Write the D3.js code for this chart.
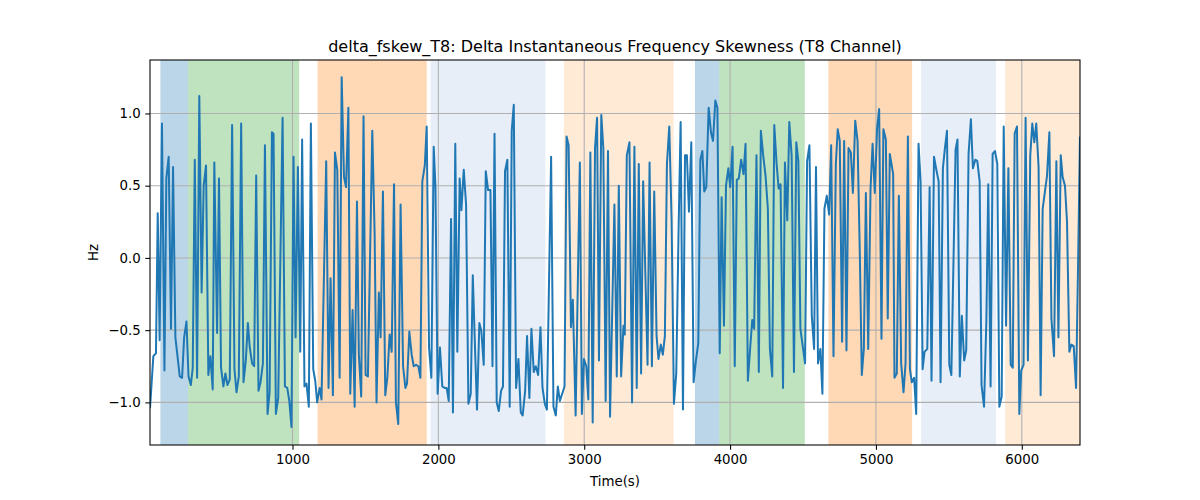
<!DOCTYPE html>
<html>
<head>
<meta charset="utf-8">
<script src="https://cdn.jsdelivr.net/npm/d3@7"></script>
<style>
body { margin: 0; background: #fff; }
svg { display: block; font-family: "DejaVu Sans", sans-serif; }
</style>
</head>
<body>
<svg id="chart" width="1200" height="500"></svg>
<script>
const title = "delta_fskew_T8: Delta Instantaneous Frequency Skewness (T8 Channel)";
const xLabel = "Time(s)";
const yLabel = "Hz";
const xTicks = [1000, 2000, 3000, 4000, 5000, 6000];
const yTicks = [-1.0, -0.5, 0.0, 0.5, 1.0];
const yDomain = [-1.295, 1.37];

const times = [
23,46,64,76,89,105,122,135,151,167,181,197,227,243,257,273,287,303,316,330,346,361,377,391,407,423,437,453,464,483,496,510,526,540,554,570,586,602,616,632,648,664,680,694,707,723,737,751,767,781,797,
811,829,843,859,870,886,902,932,948,964,978,993,1007,1021,1037,1053,1066,1082,1096,1112,1126,1142,1156,1169,1186,1199,1231,1247,1261,1277,1291,1307,1323,1337,1353,1367,1383,1396,1412,1426,1442,1455,1471,1487,1501,1517,1547,1563,1576,1592,
1604,1620,1636,1650,1666,1680,1696,1709,1725,1741,1758,1774,1785,1801,1817,1831,1847,1863,1877,1890,1907,1920,1936,1952,1968,1980,1995,2011,2027,2043,2057,2071,2087,2100,2116,2130,2146,2158,2174,2190,2206,2222,2236,2249,2265,2281,2295,2311,2325,2341,2357,2371,2385,
2400,2414,2430,2443,2457,2473,2489,2503,2517,2533,2549,2565,2578,2595,2608,2624,2638,2654,2668,2684,2700,2714,2730,2744,2773,2789,2805,2819,2833,2849,2865,2879,2893,2909,2922,2941,2970,2984,2998,3014,3028,3042,3058,3074,3088,3101,3117,3131,3147,3163,
3177,3207,3223,3237,3253,3269,3278,3292,3310,3328,3344,3360,3374,3390,3404,3434,3448,3464,3480,3496,3509,3525,3539,3553,3567,3583,3599,3615,3631,3647,3661,3677,3691,3704,3718,3734,3750,3766,3782,3796,3810,3823,3837,3853,3869,3883,3899,3913,3929,
3942,3958,3972,3988,4001,4017,4032,4046,4060,4076,4092,4106,4122,4138,4152,4165,4181,4197,4211,4227,4243,4259,4273,4289,4303,4319,4333,4346,4363,4376,4392,4406,4422,4438,4454,4468,4482,4514,4528,4544,4560,4576,4589,4603,4619,4633,4647,4663,4679,4693,4709,4725,4738,4752,
4768,4782,4798,4812,4828,4842,4858,4874,4890,4903,4917,4931,4947,4963,4977,4992,5008,5022,5038,5051,5068,5081,5095,5118,5127,5143,5157,5173,5189,5203,5219,5233,5246,5262,5276,5292,5306,5320,5333,5352,5368,5381,5398,5414,5430,5443,5459,5473,5487,5503,5517,
5546,5559,5575,5589,5605,5619,5635,5651,5665,5681,5695,5711,5724,5741,5757,5770,5786,5800,5816,5832,5846,5862,5876,5892,5908,5924,5938,5951,5967,5983,5996,6012,6026,6042,6058,6072,6086,6099,6115,6129,6143,6173,6189,6203,6221,6237,6251,6267,6280,6296,6310,6326,6340,6356,6372,6386,6399
];

const values = [
-1.04,-0.68,-0.66,0.31,-0.57,0.93,-0.78,0.55,0.70,-0.49,0.63,-0.55,-0.82,-0.83,-0.55,-0.44,-0.82,-0.88,-0.76,0.68,-0.83,1.12,-0.24,0.50,0.64,-0.81,-0.68,-0.91,0.66,-0.52,0.55,-0.76,-0.89,-0.80,-0.88,-0.84,0.92,-0.77,-0.93,-0.82,0.93,-0.86,-0.71,-0.45,-0.62,-0.73,-0.75,0.57,-0.92,-0.86,-0.73,
0.78,-1.08,-0.93,0.87,0.86,-1.08,-0.97,0.97,-0.89,-0.90,-0.99,-1.17,0.70,-0.55,0.63,-0.65,0.82,-0.89,-0.87,-1.03,0.93,-0.77,-0.85,-1.00,-0.90,-0.98,0.67,-0.90,-0.14,-0.95,0.73,0.61,-0.83,1.25,0.56,0.49,1.04,-0.94,-0.36,-1.03,0.39,-0.67,-0.96,0.98,-0.81,-0.82,0.88,0.17,-1.00,-0.24,
-0.55,0.46,-0.95,-0.83,-0.53,-0.65,0.51,-1.00,-1.15,0.37,-0.75,-0.90,-0.87,-0.51,-0.67,-0.75,-0.74,-0.75,-0.83,0.53,0.64,0.91,-0.62,-0.83,0.77,0.49,-0.94,-0.62,-0.89,-0.90,-0.90,-0.99,0.27,-1.07,0.79,-0.65,0.55,0.33,0.61,0.37,-1.01,-0.94,-0.12,-0.55,-1.05,-0.45,-0.51,-0.74,0.60,0.47,0.47,-0.75,0.86,
-1.00,-1.06,-0.92,-0.89,0.60,0.68,-1.03,0.88,1.06,-0.90,-0.70,-1.07,-1.09,-0.92,-0.54,-0.97,-0.49,-0.79,-0.75,-0.81,-0.48,-0.90,-1.01,-1.05,0.70,-1.03,-1.09,-0.89,-0.99,-0.94,-0.89,0.84,0.78,-0.48,-0.29,-1.09,0.66,-1.08,-0.70,-0.75,-0.98,0.73,-1.14,0.76,0.97,-0.71,0.99,0.76,-0.99,0.74,
-1.10,0.37,-0.82,0.50,-0.82,-0.47,-0.53,0.71,0.80,-1.00,0.77,-0.90,0.65,-0.80,0.53,-0.74,0.66,-0.75,0.46,-0.54,-0.70,-0.60,-0.67,-0.54,0.65,0.91,0.27,-1.01,-0.80,0.20,0.94,-1.05,0.71,0.71,0.32,0.80,-0.86,-0.71,-0.59,0.68,0.74,0.46,0.49,1.04,0.87,0.81,1.09,1.04,-0.66,
0.42,-0.47,0.50,0.62,0.49,0.77,-0.75,0.54,0.55,0.68,0.58,0.79,-0.85,-0.62,-0.43,-0.49,0.71,-0.79,0.88,0.71,0.57,0.34,-0.63,-0.82,0.92,0.65,0.48,0.51,-0.90,0.66,0.26,0.94,0.71,-0.79,0.80,0.67,-0.49,-0.73,0.67,0.78,-0.40,-0.63,0.63,-0.73,-0.63,-0.94,0.34,0.43,0.30,0.78,-0.68,0.65,0.89,0.81,
-0.58,0.81,-0.64,0.76,0.73,0.45,0.95,0.81,0.00,-0.81,-0.63,0.45,-0.63,0.48,0.79,0.45,0.90,1.03,-0.56,0.89,0.82,-0.42,0.72,0.58,-0.83,-0.80,0.43,-0.73,-0.93,-0.73,0.84,-0.77,-0.86,-0.83,-1.08,0.79,0.53,-0.77,-0.65,-0.63,0.49,-0.85,0.70,0.61,0.53,-0.86,0.62,0.76,0.88,-0.74,-0.81,
0.75,0.82,-0.82,-0.40,-0.71,-0.64,0.72,0.96,0.62,0.68,0.67,0.53,-0.88,-1.03,-0.44,0.51,-0.89,0.72,0.74,0.65,-1.03,-0.96,0.91,-0.47,0.62,-0.74,-0.76,0.86,0.91,-1.08,-0.78,-0.74,0.97,-0.71,0.71,0.93,0.80,0.93,0.63,-0.95,0.34,0.57,0.87,-0.42,-0.68,0.67,-0.55,0.71,0.56,0.50,0.25,-0.65,-0.60,-0.61,-0.90,-0.03,0.84
];

const spanStarts = [94, 284, 1172, 1947, 2860, 3759, 3926, 4674, 5310, 5886];
const spanEnds   = [284, 1046, 1920, 2734, 3613, 3926, 4512, 5248, 5823, 6399];
const spanColors = ["#1f77b4", "#2ca02c", "#ff7f0e", "#aec7e8", "#ffbb78", "#1f77b4", "#2ca02c", "#ff7f0e", "#aec7e8", "#ffbb78"];

const margin = {left: 150, right: 120, top: 60, bottom: 55};
const W = 1200, H = 500;
const iw = W - margin.left - margin.right;
const ih = H - margin.top - margin.bottom;

const svg = d3.select("#chart");
const g = svg.append("g").attr("transform", `translate(${margin.left},${margin.top})`);

const x = d3.scaleLinear().domain(d3.extent(times)).range([0, iw]);
const y = d3.scaleLinear().domain(yDomain).range([ih, 0]);

svg.append("defs").append("clipPath").attr("id", "clip")
  .append("rect").attr("width", iw).attr("height", ih);

const plot = g.append("g").attr("clip-path", "url(#clip)");

// spans
plot.selectAll("rect.span").data(spanStarts).join("rect")
  .attr("class", "span")
  .attr("x", (d) => x(d))
  .attr("width", (d, i) => x(spanEnds[i]) - x(d))
  .attr("y", 0).attr("height", ih)
  .attr("fill", (d, i) => spanColors[i])
  .attr("fill-opacity", 0.3);

// grid
plot.selectAll("line.gx").data(xTicks).join("line")
  .attr("x1", d => x(d)).attr("x2", d => x(d))
  .attr("y1", 0).attr("y2", ih)
  .attr("stroke", "#b0b0b0").attr("stroke-width", 1.07);
plot.selectAll("line.gy").data(yTicks).join("line")
  .attr("y1", d => y(d)).attr("y2", d => y(d))
  .attr("x1", 0).attr("x2", iw)
  .attr("stroke", "#b0b0b0").attr("stroke-width", 1.07);

// line
const pts = times.map((t, i) => [t, values[i]]);
plot.append("path").datum(pts)
  .attr("fill", "none")
  .attr("stroke", "#1f77b4")
  .attr("stroke-width", 2)
  .attr("stroke-linejoin", "round")
  .attr("stroke-linecap", "butt")
  .attr("d", d3.line().x(d => x(d[0])).y(d => y(d[1])));

// axes
const xAxis = g.append("g").attr("transform", `translate(0,${ih})`)
  .call(d3.axisBottom(x).tickValues(xTicks).tickFormat(d3.format("d")).tickSize(4.67).tickPadding(4.67));
const yAxis = g.append("g")
  .call(d3.axisLeft(y).tickValues(yTicks).tickFormat(d => d3.format(".1f")(d).replace("-", "\u2212")).tickSize(4.67).tickPadding(4.67));
[xAxis, yAxis].forEach(a => {
  a.select(".domain").remove();
  a.selectAll("text").attr("font-size", "13.33px").attr("font-family", "DejaVu Sans").attr("fill", "#000");
  a.selectAll("line").attr("stroke", "#000").attr("stroke-width", 1.07);
});

// spines
g.append("rect").attr("width", iw).attr("height", ih)
  .attr("fill", "none").attr("stroke", "#000").attr("stroke-width", 1.07);

// title and labels
svg.append("text").attr("x", margin.left + iw / 2).attr("y", margin.top - 8)
  .attr("text-anchor", "middle").attr("font-size", "16px").attr("fill", "#000").text(title);
svg.append("text").attr("x", margin.left + iw / 2).attr("y", 486)
  .attr("text-anchor", "middle").attr("font-size", "13.33px").attr("fill", "#000").text(xLabel);
svg.append("text").attr("transform", `translate(98,${margin.top + ih / 2}) rotate(-90)`)
  .attr("text-anchor", "middle").attr("font-size", "13.33px").attr("fill", "#000").text(yLabel);
</script>
</body>
</html>
